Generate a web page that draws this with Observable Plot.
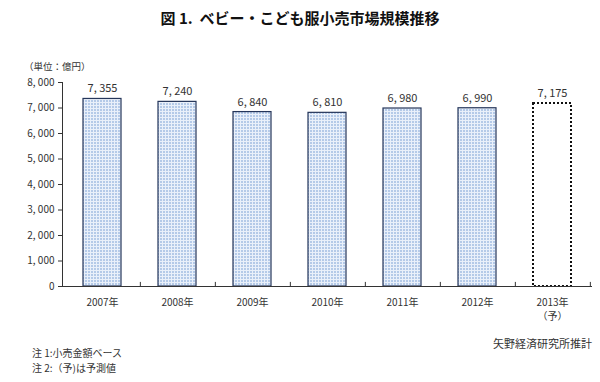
<!DOCTYPE html>
<html>
<head>
<meta charset="utf-8">
<script src="https://cdn.jsdelivr.net/npm/d3@7"></script>
<script src="https://cdn.jsdelivr.net/npm/@observablehq/plot@0.6"></script>
<style>
  html, body { margin: 0; padding: 0; background: #fff; }
  #wrap { position: relative; width: 600px; height: 382px; font-family: "Noto Sans CJK JP", sans-serif; color: #222; }
  .abs { position: absolute; white-space: nowrap; }
  #title { left: 0; width: 600px; top: 7px; text-align: center; font-size: 15px; font-weight: bold; color: #111; }
  #unit { left: 24px; top: 59px; font-size: 9.5px; color: #333; }
  #source { right: 8px; top: 335px; font-size: 11px; color: #333; }
  .note { left: 32px; font-size: 10px; line-height: 12px; color: #333; }
  #note1 { top: 347px; }
  #note2 { top: 362px; }
</style>
</head>
<body>
<div id="wrap">
  <div id="chart"></div>
  <div id="title" class="abs">図 1.&nbsp;&nbsp;ベビー・こども服小売市場規模推移</div>
  <div id="unit" class="abs">（単位：億円）</div>
  <div id="source" class="abs">矢野経済研究所推計</div>
  <div id="note1" class="abs note">注 1:小売金額ベース</div>
  <div id="note2" class="abs note">注 2:（予)は予測値</div>
</div>
<script>
const years = ["2007", "2008", "2009", "2010", "2011", "2012", "2013"];
const values = [7355, 7240, 6840, 6810, 6980, 6990, 7175];
const forecast = [false, false, false, false, false, false, true];
const yTicks = [0, 1000, 2000, 3000, 4000, 5000, 6000, 7000, 8000];

const data = years.map((y, i) => ({year: y, value: values[i], forecast: forecast[i]}));
const fmt = d => d3.format(",")(d).replace(",", ", ");

const W = 600, H = 382, mL = 62, mR = 8, mT = 82, mB = 96;
const step = (W - mL - mR) / years.length;

const chart = Plot.plot({
  width: W, height: H,
  marginLeft: mL, marginRight: mR, marginTop: mT, marginBottom: mB,
  style: {fontFamily: "'Noto Sans CJK JP', sans-serif", color: "#333", background: "#fff"},
  x: {domain: years, paddingInner: 0.5, paddingOuter: 0.25, label: null},
  y: {domain: [0, 8000], label: null},
  marks: [
    Plot.barY(data.filter(d => !d.forecast), {x: "year", y: "value", fill: "url(#gridpat)", stroke: "#25365a", strokeWidth: 1.2}),
    Plot.barY(data.filter(d => d.forecast), {x: "year", y: "value", fill: "white", stroke: "#111", strokeWidth: 2, strokeDasharray: "2,2"}),
    Plot.text(data, {x: "year", y: "value", text: d => fmt(d.value), dy: -10, fontSize: 11, fill: "#333"}),
    Plot.ruleX(years, {x: d => d, dx: step / 2, y1: 0, y2: 160, stroke: "#333"}),
    Plot.axisY({ticks: yTicks, tickFormat: fmt, tickSize: 4, tickPadding: 4, fontSize: 10, stroke: "#333", fill: "#333"}),
    Plot.axisX({tickSize: 0, tickPadding: 10, fontSize: 10, fill: "#333", lineHeight: 1.4,
      tickFormat: (d) => forecast[years.indexOf(d)] ? d + "年\n（予）" : d + "年"}),
    Plot.ruleY([0], {stroke: "#333"}),
    Plot.frame({anchor: "left", stroke: "#333"})
  ]
});

d3.select(chart).insert("defs", ":first-child").html(`
  <pattern id="gridpat" width="3" height="3" patternUnits="userSpaceOnUse">
    <rect width="3" height="3" fill="#b4cae8"></rect>
    <rect width="3" height="1" fill="#e9f0fa"></rect>
    <rect width="1" height="3" fill="#e9f0fa"></rect>
  </pattern>`);

document.getElementById("chart").appendChild(chart);
</script>
</body>
</html>
